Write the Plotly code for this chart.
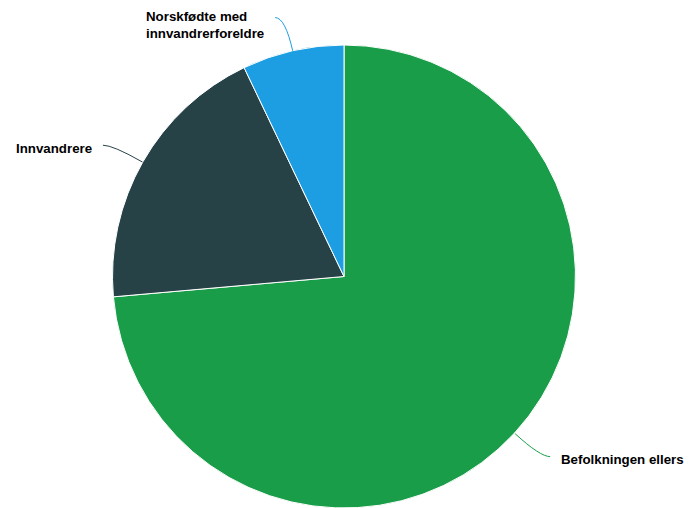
import math
import plotly.graph_objects as go

labels = ["Befolkningen ellers", "Innvandrere", "Norskfødte med<br>innvandrerforeldre"]
values = [73.6, 19.3, 7.1]
colors = ["#1a9d49", "#274247", "#1d9de2"]

W, H = 689, 508
cx, cy, r = 344, 277, 232  # pixel geometry of pie within figure

fig = go.Figure(go.Pie(
    labels=labels, values=values, sort=False, direction="clockwise", rotation=0,
    marker=dict(colors=colors, line=dict(color="white", width=1)),
    textposition="none", hoverinfo="label+value", showlegend=False,
    domain=dict(x=[(cx - r) / W, (cx + r) / W], y=[max(0, 1 - (cy + r) / H), 1 - (cy - r) / H]),
))

total = sum(values)
cum = 0.0
shapes, annots = [], []
P = lambda x, y: f"{x / W:.5f},{1 - y / H:.5f}"
for lab, v, col in zip(labels, values, colors):
    th = 2 * math.pi * (cum + v / 2) / total
    cum += v
    s, c = math.sin(th), math.cos(th)
    ex, ey = cx + r * s, cy - r * c
    bx, by = ex + 34 * s, ey - 34 * c
    side = 1 if s >= 0 else -1
    tx, ty = bx + side * 10, by
    shapes.append(dict(type="path", xref="paper", yref="paper",
                       path=f"M {P(ex, ey)} Q {P(bx, by)} {P(tx, ty)}",
                       line=dict(color=col, width=1)))
    nlines = lab.count("<br>") + 1
    ly = max(ty + 3, 9 + nlines * 8)
    annots.append(dict(x=(tx + side * 9) / W, y=1 - ly / H, xref="paper", yref="paper",
                       text=f"<b>{lab}</b>", showarrow=False,
                       xanchor="left" if side > 0 else "right", yanchor="middle", align="left",
                       font=dict(family="Liberation Sans, Arial, sans-serif", size=13.3, color="#000000")))

fig.update_layout(width=W, height=H, margin=dict(l=0, r=0, t=0, b=0),
                  paper_bgcolor="white", plot_bgcolor="white",
                  shapes=shapes, annotations=annots)
fig.write_html("out.html", config={"displayModeBar": False},
               post_script="document.body.style.margin='0';document.body.style.overflow='hidden';")
